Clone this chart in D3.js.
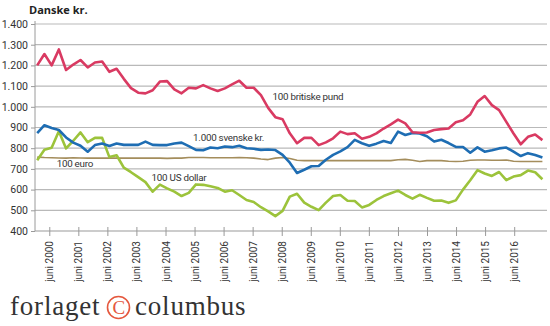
<!DOCTYPE html>
<html><head><meta charset="utf-8">
<script src="https://cdn.jsdelivr.net/npm/d3@7"></script>
<style>html,body{margin:0;padding:0;background:#fff;}svg{display:block;}</style>
</head><body>
<svg id="c" width="550" height="326"></svg>
<script>
// quarterly observations, Jan 2000 .. Jul 2017
const quarters = d3.range(71).map(i => `${2000 + Math.floor(i / 4)} K${i % 4 + 1}`);
const years = d3.range(2000, 2017);
const yTicks = [400, 500, 600, 700, 800, 900, 1000, 1100, 1200, 1300, 1400];
const yTickLabels = ["400","500","600","700","800","900","1.000","1.100","1.200","1.300","1.400"];

const gbp = [1200,1255,1200,1277,1178,1204,1226,1190,1214,1219,
  1169,1184,1135,1090,1068,1065,1080,1122,1124,1084,
  1065,1092,1089,1105,1089,1076,1089,1108,1126,1092,
  1092,1056,995,950,940,872,824,850,850,815,
  828,848,880,868,872,846,855,872,895,915,
  938,920,877,875,876,888,892,895,925,935,
  963,1024,1052,1008,984,927,871,819,855,866,839];
const sek = [873,911,898,888,852,827,812,783,815,823,
  811,823,816,816,816,832,816,815,815,823,
  827,810,792,790,803,800,808,805,812,800,
  797,792,794,791,768,730,680,696,713,714,
  744,768,785,805,840,824,812,822,835,825,
  880,864,874,871,858,832,841,825,806,806,
  778,804,783,790,799,803,783,762,776,767,755];
const eur = [757,755,754,753,752,754,753,752,752,753,
  752,752,752,752,752,752,752,752,751,752,
  752,755,755,755,754,754,754,754,755,754,
  752,748,745,752,755,750,742,740,740,740,
  740,740,740,740,740,740,740,740,740,740,
  744,746,742,736,740,740,740,737,736,737,
  742,743,743,742,742,743,737,736,736,736,736];
const usd = [742,792,802,882,799,836,876,829,850,850,
  757,766,706,684,660,636,590,624,606,590,
  569,584,625,623,616,608,590,597,574,550,
  540,515,495,472,497,566,580,537,517,501,
  537,569,574,546,545,514,526,550,569,582,
  595,574,556,575,560,546,547,536,548,600,
  645,694,678,666,685,646,663,670,692,684,650];

const series = [
  {name: "100 euro", values: eur, color: "#a48d5c", width: 1.6},
  {name: "100 US dollar", values: usd, color: "#9cc33b", width: 2.6},
  {name: "1.000 svenske kr.", values: sek, color: "#1e6db3", width: 2.6},
  {name: "100 britiske pund", values: gbp, color: "#d93a62", width: 2.6}
];
const labels = [
  {text: "100 britiske pund", q: 32.6, v: 1049},
  {text: "1.000 svenske kr.", q: 21.6, v: 853},
  {text: "100 euro", q: 2.7, v: 724},
  {text: "100 US dollar", q: 15.85, v: 659}
];

const svg = d3.select("#c");
const x = d3.scalePoint().domain(quarters).range([37.2, 542.4]);
const xYear = d3.scaleTime().domain([new Date(2000, 0, 1), new Date(2017, 0, 1)]).range([37.2, 37.2 + 17 * 29.06]);
const y = d3.scaleLinear().domain([400, 1400]).range([231, 24]);
const xLeft = 35, xRight = 547;

// gridlines
svg.append("g").selectAll("line").data(yTicks.slice(1)).join("line")
  .attr("x1", xLeft).attr("x2", xRight)
  .attr("y1", d => y(d)).attr("y2", d => y(d))
  .attr("stroke", "#b9b9b9").attr("stroke-width", 1.2);

// y axis
const yAxis = svg.append("g").attr("transform", `translate(${xLeft},0)`)
  .call(d3.axisLeft(y).tickValues(yTicks).tickSize(4).tickPadding(3)
    .tickFormat((d, i) => yTickLabels[i]));
yAxis.select(".domain").remove();
yAxis.selectAll(".tick line").attr("stroke", "#9a9a9a");
yAxis.selectAll(".tick text").attr("font-family", "Roboto, sans-serif").attr("font-size", 10.5).attr("fill", "#333");
svg.append("line").attr("x1", xLeft).attr("x2", xLeft).attr("y1", 21).attr("y2", 231)
  .attr("stroke", "#9a9a9a").attr("stroke-width", 1);

// x axis
svg.append("line").attr("x1", xLeft).attr("x2", xRight).attr("y1", 231).attr("y2", 231)
  .attr("stroke", "#9a9a9a").attr("stroke-width", 1.2);
const xAxis = svg.append("g").attr("transform", "translate(0,231)")
  .call(d3.axisBottom(xYear).tickValues(years.map(yr => new Date(yr, 5, 1))).tickSize(5).tickPadding(0)
    .tickFormat(d => "juni " + d.getFullYear()));
xAxis.select(".domain").remove();
xAxis.selectAll(".tick line").attr("y1", -4).attr("y2", 5).attr("stroke", "#9a9a9a");
xAxis.selectAll(".tick text")
  .attr("font-family", "Roboto, sans-serif").attr("font-size", 10).attr("fill", "#333")
  .attr("text-anchor", "end").attr("transform", "rotate(-90)")
  .attr("x", -10).attr("y", 0).attr("dy", "0.35em");

// lines
const line = d3.line().x((d, i) => x(quarters[i])).y(d => y(d)).curve(d3.curveLinear);
svg.append("g").selectAll("path").data(series).join("path")
  .attr("d", s => line(s.values)).attr("fill", "none")
  .attr("stroke", s => s.color).attr("stroke-width", s => s.width)
  .attr("stroke-linejoin", "round");

// series labels
const qIdx = d3.scaleLinear().domain([0, quarters.length - 1]).range(x.range());
svg.append("g").selectAll("text").data(labels).join("text")
  .attr("x", d => qIdx(d.q)).attr("y", d => y(d.v)).attr("dy", "0.35em")
  .attr("font-family", "Roboto, sans-serif").attr("font-size", 9.8).attr("letter-spacing", -0.25)
  .attr("fill", "#333").text(d => d.text);

// title
svg.append("text").attr("x", 29).attr("y", 14)
  .attr("font-family", "'Open Sans', sans-serif").attr("font-weight", "bold").attr("font-size", 11)
  .attr("fill", "#222").text("Danske kr.");

// logo
const logo = svg.append("g").attr("font-family", "'Liberation Serif', serif").attr("font-size", 27)
  .attr("letter-spacing", 0.8).attr("fill", "#333");
logo.append("text").attr("x", 10).attr("y", 315).text("forlaget");
svg.append("circle").attr("cx", 118.5).attr("cy", 307.5).attr("r", 11)
  .attr("fill", "none").attr("stroke", "#e5583e").attr("stroke-width", 1.6);
svg.append("text").attr("x", 118.8).attr("y", 314.2).attr("text-anchor", "middle")
  .attr("font-family", "'Liberation Serif', serif").attr("font-size", 19).attr("fill", "#e5583e").text("C");
logo.append("text").attr("x", 135).attr("y", 315).text("columbus");
</script>
</body></html>
